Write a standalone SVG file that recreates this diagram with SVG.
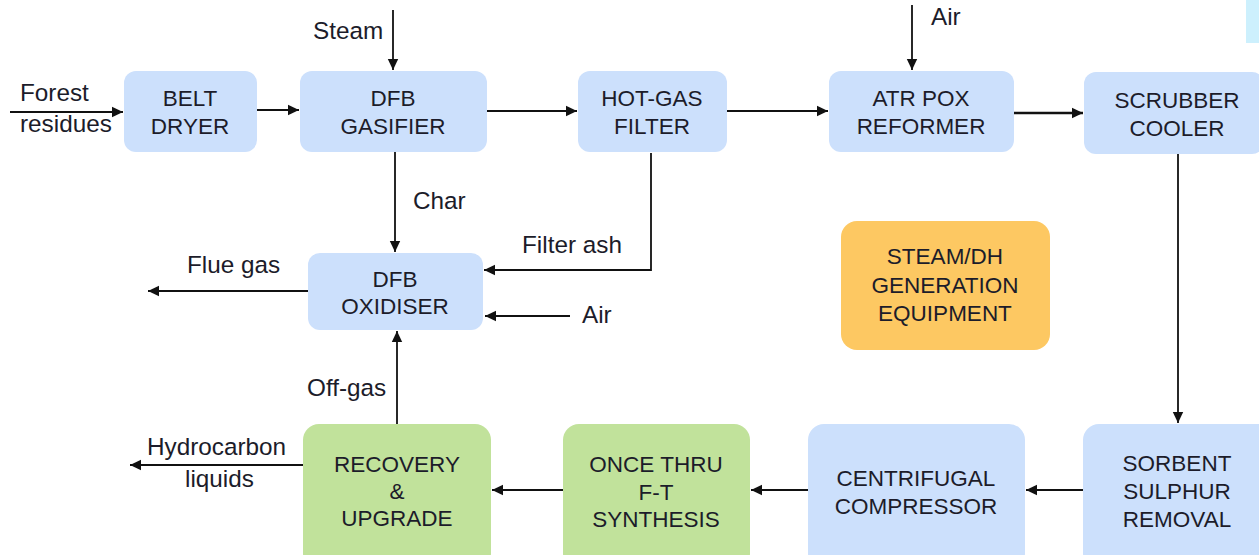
<svg xmlns="http://www.w3.org/2000/svg" width="1259" height="555" viewBox="0 0 1259 555">
<style>
.bx{fill:#cce0fc}
.gr{fill:#c1e29b}
.or{fill:#fdc862}
.t{font-family:"Liberation Sans",Arial,sans-serif;font-size:22.5px;fill:#1c1c2a;text-anchor:middle}
.l{font-family:"Liberation Sans",Arial,sans-serif;font-size:24.3px;fill:#1c1c2a}
.c{fill:none;stroke:#111;stroke-width:1.8}
</style>
<defs>
<marker id="ah" markerWidth="12" markerHeight="12" refX="11" refY="6" orient="auto" markerUnits="userSpaceOnUse">
<path d="M0,0.8 L11,6 L0,11.2 Z" fill="#111"/>
</marker>
</defs>
<rect x="1246" y="0" width="13" height="43" fill="#cdf0fd"/>
<g id="connectors">
<path class="c" d="M10,112 H123" marker-end="url(#ah)"/>
<path class="c" d="M257,110 H299" marker-end="url(#ah)"/>
<path class="c" d="M393,10 V70" marker-end="url(#ah)"/>
<path class="c" d="M487,111 H577" marker-end="url(#ah)"/>
<path class="c" d="M727,111 H828" marker-end="url(#ah)"/>
<path class="c" d="M912,5 V70" marker-end="url(#ah)"/>
<path class="c" style="stroke-width:2.4" d="M1014,113 H1083" marker-end="url(#ah)"/>
<path class="c" d="M1178,154 V423" marker-end="url(#ah)"/>
<path class="c" d="M395,152 V252" marker-end="url(#ah)"/>
<path class="c" d="M651,153 V270 H484" marker-end="url(#ah)"/>
<path class="c" d="M570,316 H485" marker-end="url(#ah)"/>
<path class="c" d="M308,291 H148" marker-end="url(#ah)"/>
<path class="c" d="M397,424 V331" marker-end="url(#ah)"/>
<path class="c" d="M303,465 H130" marker-end="url(#ah)"/>
<path class="c" d="M1083,490 H1026" marker-end="url(#ah)"/>
<path class="c" d="M808,490 H751" marker-end="url(#ah)"/>
<path class="c" d="M563,490 H492" marker-end="url(#ah)"/>
</g>
<g id="labels">
<text class="l" x="20" y="101">Forest</text>
<text class="l" x="20" y="132">residues</text>
<text class="l" x="313" y="39">Steam</text>
<text class="l" x="931" y="25">Air</text>
<text class="l" x="413" y="209">Char</text>
<text class="l" x="522" y="253">Filter ash</text>
<text class="l" x="187" y="273">Flue gas</text>
<text class="l" x="582" y="323">Air</text>
<text class="l" x="307" y="396">Off-gas</text>
<text class="l" x="147" y="455">Hydrocarbon</text>
<text class="l" x="185" y="487">liquids</text>
</g>
<g id="belt-dryer">
<rect class="bx" x="124" y="71" width="133" height="81" rx="12"/>
<text class="t" x="190" y="106">BELT</text>
<text class="t" x="190" y="134">DRYER</text>
</g>
<g id="dfb-gasifier">
<rect class="bx" x="300" y="71" width="187" height="81" rx="12"/>
<text class="t" x="393" y="106">DFB</text>
<text class="t" x="393" y="134">GASIFIER</text>
</g>
<g id="hot-gas-filter">
<rect class="bx" x="578" y="71" width="149" height="81" rx="12"/>
<text class="t" x="652" y="106">HOT-GAS</text>
<text class="t" x="652" y="134">FILTER</text>
</g>
<g id="atr-pox-reformer">
<rect class="bx" x="829" y="71" width="185" height="81" rx="12"/>
<text class="t" x="921" y="106">ATR POX</text>
<text class="t" x="921" y="134">REFORMER</text>
</g>
<g id="scrubber-cooler">
<rect class="bx" x="1084" y="72" width="180" height="82" rx="12"/>
<text class="t" x="1177" y="108">SCRUBBER</text>
<text class="t" x="1177" y="136">COOLER</text>
</g>
<g id="dfb-oxidiser">
<rect class="bx" x="308" y="253" width="175" height="77" rx="12"/>
<text class="t" x="395" y="287">DFB</text>
<text class="t" x="395" y="314">OXIDISER</text>
</g>
<g id="steam-dh">
<rect class="or" x="841" y="221" width="209" height="129" rx="16"/>
<text class="t" x="945" y="264">STEAM/DH</text>
<text class="t" x="945" y="293">GENERATION</text>
<text class="t" x="945" y="321">EQUIPMENT</text>
</g>
<g id="sorbent-sulphur-removal">
<rect class="bx" x="1083" y="424" width="190" height="145" rx="16"/>
<text class="t" x="1177" y="471">SORBENT</text>
<text class="t" x="1177" y="499">SULPHUR</text>
<text class="t" x="1177" y="527">REMOVAL</text>
</g>
<g id="centrifugal-compressor">
<rect class="bx" x="808" y="424" width="217" height="145" rx="16"/>
<text class="t" x="916" y="486">CENTRIFUGAL</text>
<text class="t" x="916" y="514">COMPRESSOR</text>
</g>
<g id="ft-synthesis">
<rect class="gr" x="563" y="424" width="187" height="145" rx="16"/>
<text class="t" x="656" y="472">ONCE THRU</text>
<text class="t" x="656" y="500">F-T</text>
<text class="t" x="656" y="527">SYNTHESIS</text>
</g>
<g id="recovery-upgrade">
<rect class="gr" x="303" y="424" width="188" height="145" rx="16"/>
<text class="t" x="397" y="472">RECOVERY</text>
<text class="t" x="397" y="499">&amp;</text>
<text class="t" x="397" y="526">UPGRADE</text>
</g>
</svg>
